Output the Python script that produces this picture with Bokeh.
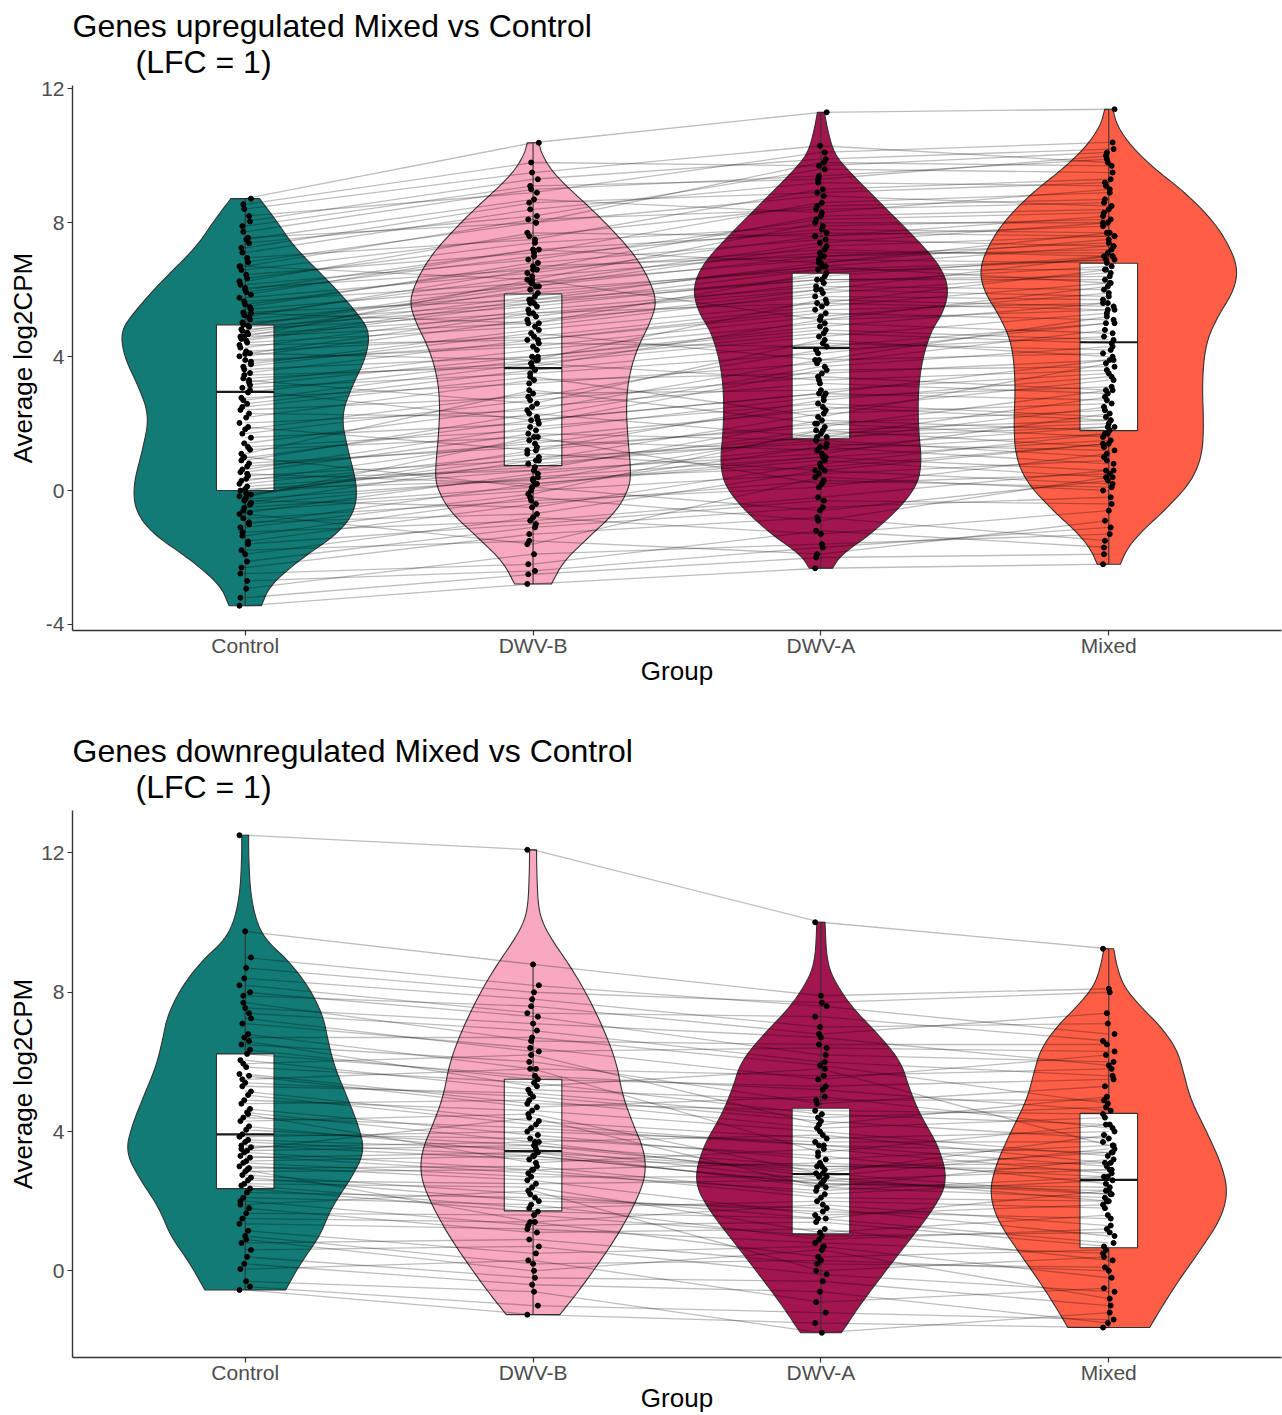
import numpy as np
from bokeh.plotting import figure
from bokeh.layouts import column
from bokeh.models import Title, FixedTicker, Range1d
from bokeh.embed import file_html
from bokeh.resources import INLINE

groups = ["Control", "DWV-B", "DWV-A", "Mixed"]
fill_colors = ["#127B75", "#F8A9BD", "#A2154F", "#FE5E46"]

# ---------------- upregulated genes (values per gene, one list per group) -------------
up_control = [-3.44, -2.93, -2.48, -2.12, -1.78, -1.52, -1.24, -1.01, -0.83, -0.66, -0.51, -0.37, -0.26, -0.17, -0.08, 0.0,
              0.12, 0.29, 0.44, 0.63, 0.81, 0.98, 1.22, 1.41, 1.58, 1.83, 2.02, 2.18, 2.41, 2.59, 2.77, 2.93,
              3.07, 3.23, 3.35, 3.51, 3.62, 3.77, 3.9, 4.01, 4.16, 4.27, 4.42, 4.53, 4.67, 4.77, 4.89, 4.95,
              5.11, 5.24, 5.41, 5.56, 5.76, 5.93, 6.15, 6.34, 6.59, 6.82, 7.11, 7.39, 7.73, 8.04, 8.41, 8.72,
              -1.9, -0.7, -0.2, -1.1, 0.5, 1.1, 1.9, 2.5, 3.3, 3.7, 4.1, 4.6, 5.3, 6.0, 6.7, 7.5,
              -3.2, -2.7, -2.3, -1.6, -1.35, -0.95, -0.6, -0.42, -0.3, -0.12, 0.05, 0.2, 0.35, 0.55, 0.72, 0.9,
              1.3, 1.7, 2.3, 2.7, 3.15, 3.45, 3.85, 4.08, 4.35, 4.48, 4.6, 4.72, 4.82, 4.92, 5.02, 5.18,
              5.32, 5.48, 5.65, 5.85, 6.05, 6.25, 6.45, 6.7, 6.95, 7.25, 7.55, 7.9, 8.2, 8.55, 3.0, 1.0]
up_dwvb = [-2.79, -1.9, -2.2, -1.1, -1.5, -0.4, -0.9, 0.2, -0.3, 0.5, 0.1, 0.9, 0.35, 1.2, 0.6, 0.8,
           0.7, 1.5, 0.9, 1.9, 1.3, 2.1, 1.6, 2.5, 2.0, 2.9, 2.4, 3.3, 2.8, 3.6, 3.2, 3.9,
           3.5, 4.2, 3.8, 4.5, 4.0, 4.8, 4.3, 5.1, 4.6, 5.4, 4.9, 5.7, 5.2, 6.0, 5.5, 6.2,
           5.9, 6.4, 6.1, 6.7, 6.5, 7.0, 6.9, 7.4, 7.6, 8.0, 8.4, 8.2, 9.0, 9.3, 9.5, 10.39,
           -0.8, -1.6, 1.6, -0.1, 0.2, 3.0, 1.2, 3.4, 2.6, 4.7, 3.9, 6.3, 5.0, 7.2, 6.3, 8.7,
           -2.5, -2.4, -1.3, -1.0, -0.2, -0.7, 0.0, 0.4, -0.5, 1.0, 0.3, 1.1, 0.6, 1.7, 1.4, 2.3,
           1.8, 2.7, 2.2, 3.8, 4.0, 3.7, 4.4, 5.3, 4.5, 5.6, 5.0, 5.8, 5.3, 6.1, 5.6, 6.6,
           5.7, 6.8, 6.2, 7.2, 6.6, 7.7, 7.1, 8.1, 7.5, 8.6, 8.0, 9.1, 8.9, 9.8, 2.1, 0.1]
up_dwva = [-2.32, -1.6, -1.2, -0.5, -1.9, 0.3, -0.2, 0.9, 0.1, 1.3, -0.6, 1.6, 0.7, 2.0, 1.1, 1.5,
           1.8, 1.2, 2.3, 2.6, 1.9, 2.9, 2.4, 3.2, 3.6, 3.0, 3.9, 3.5, 4.2, 4.4, 3.8, 4.7,
           4.1, 5.0, 4.6, 5.3, 4.9, 5.6, 5.2, 5.8, 5.5, 6.1, 5.9, 6.3, 6.2, 6.6, 6.4, 6.9,
           6.7, 7.1, 7.3, 7.0, 7.6, 7.8, 8.1, 7.9, 8.5, 8.8, 9.2, 9.6, 9.4, 9.9, 10.3, 11.3,
           -1.3, 0.4, 0.2, 1.8, 1.0, 2.0, 2.7, 2.2, 4.5, 3.9, 5.7, 5.1, 6.5, 6.8, 8.0, 8.3,
           -2.0, -1.7, -0.8, -0.3, -0.9, 0.6, 0.5, 1.0, 0.8, 1.4, 1.7, 0.6, 2.1, 1.5, 2.5, 1.6,
           2.8, 3.4, 3.7, 3.3, 4.8, 5.1, 4.3, 6.0, 5.4, 6.3, 6.0, 6.7, 5.6, 7.0, 6.6, 7.2,
           6.8, 7.5, 7.4, 7.7, 8.2, 7.6, 8.6, 8.4, 9.0, 8.9, 9.8, 9.3, 10.1, 9.7, 2.9, 1.3]
up_mixed = [-2.2, -1.3, -1.7, -0.2, -0.9, 0.1, 0.6, 0.4, 1.1, 0.8, 0.3, 1.9, 1.4, 1.6, 2.3, 1.0,
            2.1, 1.7, 2.6, 2.2, 3.0, 2.7, 3.3, 2.9, 3.7, 3.5, 4.1, 3.9, 4.6, 4.2, 4.8, 4.4,
            5.0, 4.7, 5.3, 5.1, 5.6, 5.4, 5.9, 5.7, 6.2, 6.0, 6.5, 6.3, 6.7, 6.6, 7.0, 6.8,
            7.3, 7.1, 7.6, 7.4, 7.9, 7.7, 8.3, 8.1, 8.7, 8.5, 9.1, 9.5, 9.9, 10.2, 9.8, 11.39,
            -0.6, 0.0, 0.5, 1.3, 1.5, 2.4, 3.4, 3.8, 4.0, 5.2, 5.5, 6.1, 6.9, 7.5, 8.0, 9.0,
            -1.9, -1.1, -1.5, -0.4, 0.4, 0.2, 0.9, 0.6, 1.7, 1.2, 2.0, 1.4, 1.8, 2.5, 2.1, 2.8,
            3.1, 3.0, 4.3, 3.6, 4.5, 5.4, 5.0, 5.8, 5.6, 6.4, 7.0, 6.2, 6.6, 7.2, 6.9, 7.0,
            7.7, 7.3, 8.0, 7.6, 8.4, 8.2, 8.9, 8.6, 9.3, 9.2, 9.7, 10.0, 10.4, 10.1, 3.9, 1.9]

# box statistics
up_q1 = [0.0, 0.745, 1.55, 1.79]
up_med = [2.95, 3.66, 4.26, 4.43]
up_q3 = [4.95, 5.87, 6.49, 6.79]
up_wlo = [-3.44, -2.79, -2.32, -2.2]
up_whi = [8.72, 10.39, 11.3, 11.39]

# violin density profiles (y level, half width)
up_vy_control = [-3.44, -2.83, -2.06, -1.3, -0.64, 0.13, 1.23, 2.22, 3.1, 3.98, 4.74, 5.29, 6.17, 7.27, 8.04, 8.72]
up_vw_control = [0.056, 0.086, 0.19, 0.32, 0.38, 0.39, 0.356, 0.333, 0.37, 0.42, 0.433, 0.39, 0.30, 0.17, 0.11, 0.05]
up_vy_dwvb = [-2.79, -2.12, -1.42, -0.62, 0.08, 0.58, 1.58, 2.58, 3.47, 4.27, 5.07, 5.67, 6.37, 7.07, 7.77, 8.46, 9.06, 9.56, 10.06, 10.39]
up_vw_dwvb = [0.064, 0.105, 0.19, 0.29, 0.334, 0.34, 0.329, 0.323, 0.334, 0.363, 0.41, 0.43, 0.40, 0.35, 0.277, 0.197, 0.12, 0.064, 0.03, 0.02]
up_vy_dwva = [-2.32, -1.91, -1.22, -0.22, 0.58, 2.08, 3.47, 4.67, 5.37, 6.07, 6.77, 7.57, 8.56, 9.66, 10.1, 10.7, 11.3]
up_vw_dwva = [0.04, 0.071, 0.186, 0.307, 0.353, 0.336, 0.341, 0.376, 0.428, 0.445, 0.41, 0.325, 0.21, 0.083, 0.045, 0.025, 0.012]
up_vy_mixed = [-2.2, -1.75, -1.26, -0.57, 0.23, 1.02, 2.01, 3.2, 4.38, 5.18, 5.97, 6.66, 7.45, 8.15, 8.94, 9.63, 10.32, 10.92, 11.39]
up_vw_mixed = [0.04, 0.063, 0.109, 0.197, 0.284, 0.324, 0.33, 0.324, 0.336, 0.377, 0.435, 0.449, 0.41, 0.353, 0.26, 0.156, 0.074, 0.028, 0.014]

# ---------------- downregulated genes -------------
dn_control = [-0.55, -0.3, 0.05, 0.4, 0.8, 1.15, 1.5, 1.8, 2.1, 2.36,
              2.5, 2.68, 2.85, 3.0, 3.15, 3.3, 3.45, 3.6, 3.76, 3.92,
              4.15, 4.4, 4.65, 4.9, 5.15, 5.4, 5.65, 5.85, 6.05, 6.23,
              6.5, 6.8, 7.1, 7.4, 7.7, 8.0, 8.4, 9.0, 9.75, 12.51,
              0.9, 1.9, 2.9, 3.5, 4.5, 5.5, 6.6, 7.9,
              -0.45, 0.2, 0.6, 1.0, 1.35, 1.65, 2.0, 2.25, 2.45, 2.6, 2.75, 2.95, 3.1, 3.25, 3.4, 3.55,
              3.7, 3.85, 4.05, 4.3, 4.55, 4.8, 5.05, 5.3, 5.6, 5.95, 6.35, 6.7, 7.25, 7.55, 8.2, 8.7]
dn_dwvb = [-1.26, -0.6, 0.3, -0.2, 0.9, 0.5, 1.4, 1.1, 1.9, 1.7,
           2.4, 2.0, 2.9, 2.6, 3.3, 2.8, 3.6, 3.2, 3.5, 3.8,
           3.4, 4.1, 3.9, 4.6, 4.3, 5.0, 4.8, 5.4, 5.2, 5.6,
           6.0, 5.8, 6.4, 6.9, 6.6, 7.3, 7.8, 8.2, 8.8, 12.09,
           0.0, 2.3, 1.4, 4.4, 3.1, 5.8, 5.3, 7.6,
           -1.0, -0.4, 0.7, 0.2, 1.2, 1.6, 1.3, 2.1, 1.8, 2.5, 2.2, 3.0, 2.7, 3.4, 2.9, 3.7,
           3.3, 4.0, 3.6, 4.5, 3.7, 4.9, 4.2, 5.1, 4.7, 6.2, 5.5, 6.7, 6.3, 7.1, 7.4, 8.0]
dn_dwva = [-1.5, -1.78, -0.9, -0.3, 0.2, 0.7, 0.4, 1.2, 0.9, 1.5,
           1.1, 1.8, 2.1, 1.6, 2.5, 2.3, 2.8, 3.0, 2.6, 3.3,
           2.9, 3.6, 3.2, 4.0, 3.8, 4.3, 4.6, 4.5, 4.9, 5.2,
           4.8, 5.6, 5.5, 6.0, 6.5, 6.2, 7.0, 7.6, 7.9, 10.01,
           0.6, 0.0, 1.9, 2.4, 3.5, 3.4, 5.8, 6.8,
           -1.2, -0.6, -0.1, 0.3, 0.8, 1.0, 1.4, 1.7, 2.0, 2.6, 1.5, 2.2, 2.7, 2.4, 3.1, 2.7,
           2.5, 3.7, 3.0, 2.8, 3.9, 4.1, 3.6, 4.4, 5.0, 4.2, 5.3, 5.9, 6.4, 6.7, 7.3, 7.7]
dn_mixed = [-1.63, -1.2, -0.5, -1.0, 0.1, -0.2, 0.6, 0.3, 1.2, 0.8,
            1.6, 1.0, 2.0, 1.9, 2.4, 2.7, 2.2, 3.1, 2.9, 2.5,
            3.4, 3.0, 3.6, 3.3, 4.0, 3.8, 4.5, 4.2, 4.9, 4.6,
            5.3, 5.8, 6.2, 5.6, 6.5, 6.0, 7.1, 6.8, 8.1, 9.25,
            -0.8, 0.4, 1.3, 2.1, 2.8, 4.2, 3.6, 7.4,
            -1.4, -1.5, -0.6, 0.0, 0.5, 1.1, 0.7, 1.5, 1.8, 2.2, 2.3, 2.6, 2.0, 3.2, 2.7, 3.5,
            2.3, 3.7, 2.9, 3.9, 3.1, 4.4, 3.4, 4.7, 4.1, 5.0, 5.5, 4.8, 6.3, 5.9, 6.6, 8.0]

dn_q1 = [2.36, 1.72, 1.06, 0.66]
dn_med = [3.92, 3.44, 2.78, 2.61]
dn_q3 = [6.23, 5.5, 4.67, 4.52]
dn_wlo = [-0.55, -1.26, -1.78, -1.63]
dn_whi = [9.75, 8.8, 10.01, 9.25]

dn_vy_control = [-0.55, 0.24, 0.99, 1.83, 2.68, 3.42, 4.16, 5.01, 5.86, 6.6, 7.34, 8.19, 8.93, 9.46, 9.99, 10.84, 11.9, 12.51]
dn_vw_control = [0.14, 0.194, 0.259, 0.30, 0.37, 0.415, 0.394, 0.353, 0.31, 0.288, 0.27, 0.218, 0.147, 0.076, 0.04, 0.018, 0.012, 0.012]
dn_vy_dwvb = [-1.26, -0.67, 0.12, 1.1, 2.08, 2.77, 3.46, 4.24, 5.03, 6.01, 6.99, 7.97, 8.76, 9.45, 9.94, 10.43, 11.41, 12.09]
dn_vw_dwvb = [0.093, 0.15, 0.22, 0.30, 0.363, 0.392, 0.386, 0.346, 0.311, 0.289, 0.243, 0.185, 0.128, 0.07, 0.036, 0.018, 0.013, 0.012]
dn_vy_dwva = [-1.78, -1.64, -1.06, -0.17, 0.81, 1.79, 2.58, 3.56, 4.44, 5.23, 6.01, 6.8, 7.58, 8.37, 8.95, 10.01]
dn_vw_dwva = [0.07, 0.083, 0.129, 0.209, 0.301, 0.393, 0.441, 0.41, 0.347, 0.307, 0.278, 0.198, 0.106, 0.043, 0.02, 0.014]
dn_vy_mixed = [-1.63, -1.11, -0.35, 0.61, 1.47, 2.24, 3.01, 3.96, 4.92, 5.69, 6.36, 7.03, 7.6, 8.18, 8.75, 9.25]
dn_vw_mixed = [0.142, 0.179, 0.237, 0.319, 0.388, 0.414, 0.394, 0.342, 0.284, 0.26, 0.237, 0.179, 0.109, 0.051, 0.028, 0.017]

FONT = "Liberation Sans"


def smooth_profile(y, w, n=3):
    pts = np.column_stack([np.asarray(y, float), np.asarray(w, float)])
    for _ in range(n):
        q = 0.75 * pts[:-1] + 0.25 * pts[1:]
        r = 0.25 * pts[:-1] + 0.75 * pts[1:]
        new = np.empty((2 * len(q), 2))
        new[0::2] = q
        new[1::2] = r
        pts = np.vstack([pts[:1], new, pts[-1:]])
    return pts[:, 0], pts[:, 1]


def make_panel(title1, title2, values, profiles, q1, med, q3, wlo, whi,
               yr, yticks, height, border_top, border_bottom):
    p = figure(width=1282, height=height, output_backend="svg", toolbar_location=None,
               x_range=Range1d(0.4, 4.6), y_range=Range1d(*yr),
               min_border_left=72, min_border_right=1,
               min_border_top=border_top, min_border_bottom=border_bottom)
    p.add_layout(Title(text=title2, text_font=FONT, text_font_size="32px",
                       text_font_style="normal", text_color="black", align="left",
                       offset=63, standoff=12), "above")
    p.add_layout(Title(text=title1, text_font=FONT, text_font_size="32px",
                       text_font_style="normal", text_color="black", align="left",
                       offset=0, standoff=-16), "above")
    p.outline_line_color = None
    p.xgrid.visible = False
    p.ygrid.visible = False
    p.background_fill_color = "white"
    p.border_fill_color = "white"

    centers = [1, 2, 3, 4]
    # violins
    for c, (vy, vw), col in zip(centers, profiles, fill_colors):
        ys, ws = smooth_profile(vy, vw)
        xs = np.concatenate([c + ws, (c - ws)[::-1]])
        yy = np.concatenate([ys, ys[::-1]])
        p.patch(xs, yy, fill_color=col, fill_alpha=1.0, line_color="#333333", line_width=1.1)

    # boxes
    cx = np.array(centers, float)
    p.segment(x0=cx, y0=np.array(q3), x1=cx, y1=np.array(whi), line_color="#333333", line_width=1.1)
    p.segment(x0=cx, y0=np.array(q1), x1=cx, y1=np.array(wlo), line_color="#333333", line_width=1.1)
    p.quad(left=cx - 0.1, right=cx + 0.1, bottom=q1, top=q3, fill_color="white",
           line_color="#333333", line_width=1.1)
    p.segment(x0=cx - 0.1, y0=med, x1=cx + 0.1, y1=med, line_color="#1a1a1a", line_width=2.2)

    # gene lines
    n = min(len(v) for v in values)
    xs_lines = [centers for _ in range(n)]
    ys_lines = [[values[g][i] for g in range(4)] for i in range(n)]
    p.multi_line(xs_lines, ys_lines, line_color="black", line_alpha=0.26, line_width=1.3)

    # points with small horizontal jitter
    jit = [(((i * 7) % 13) - 6) / 6 * 0.02 for i in range(n)]
    for c, vals in zip(centers, values):
        p.scatter([c + j for j in jit], vals[:n], size=5, color="black", line_color="black")

    # axes
    p.xaxis.ticker = FixedTicker(ticks=centers)
    p.xaxis.major_label_overrides = {1: "Control", 2: "DWV-B", 3: "DWV-A", 4: "Mixed"}
    p.yaxis.ticker = FixedTicker(ticks=yticks)
    p.yaxis.major_label_overrides = {t: str(t) for t in yticks}
    p.xaxis.axis_label = "Group"
    p.yaxis.axis_label = "Average log2CPM"
    for ax in (p.xaxis, p.yaxis):
        ax.axis_line_color = "#333333"
        ax.axis_line_width = 1.4
        ax.major_tick_line_color = "#333333"
        ax.major_tick_line_width = 1.2
        ax.major_tick_out = 5
        ax.major_tick_in = 0
        ax.minor_tick_line_color = None
        ax.major_label_text_font = FONT
        ax.major_label_text_font_size = "21px"
        ax.major_label_text_color = "#4D4D4D"
        ax.axis_label_text_font = FONT
        ax.axis_label_text_font_size = "26px"
        ax.axis_label_text_font_style = "normal"
        ax.axis_label_text_color = "black"
    p.xaxis.major_label_standoff = -2
    p.xaxis.axis_label_standoff = -4
    p.yaxis.major_label_standoff = 3
    p.yaxis.axis_label_standoff = 0
    return p


p1 = make_panel("Genes upregulated Mixed vs Control", "(LFC = 1)",
                [up_control, up_dwvb, up_dwva, up_mixed],
                [(up_vy_control, up_vw_control), (up_vy_dwvb, up_vw_dwvb),
                 (up_vy_dwva, up_vw_dwva), (up_vy_mixed, up_vw_mixed)],
                up_q1, up_med, up_q3, up_wlo, up_whi,
                (-4.18, 12.1), [-4, 0, 4, 8, 12], 700, 85, 70)
p2 = make_panel("Genes downregulated Mixed vs Control", "(LFC = 1)",
                [dn_control, dn_dwvb, dn_dwva, dn_mixed],
                [(dn_vy_control, dn_vw_control), (dn_vy_dwvb, dn_vw_dwvb),
                 (dn_vy_dwva, dn_vw_dwva), (dn_vy_mixed, dn_vw_mixed)],
                dn_q1, dn_med, dn_q3, dn_wlo, dn_whi,
                (-2.49, 13.22), [0, 4, 8, 12], 715, 110, 58)

layout = column(p1, p2, spacing=0)
open("out.html", "w").write(file_html(layout, INLINE))
